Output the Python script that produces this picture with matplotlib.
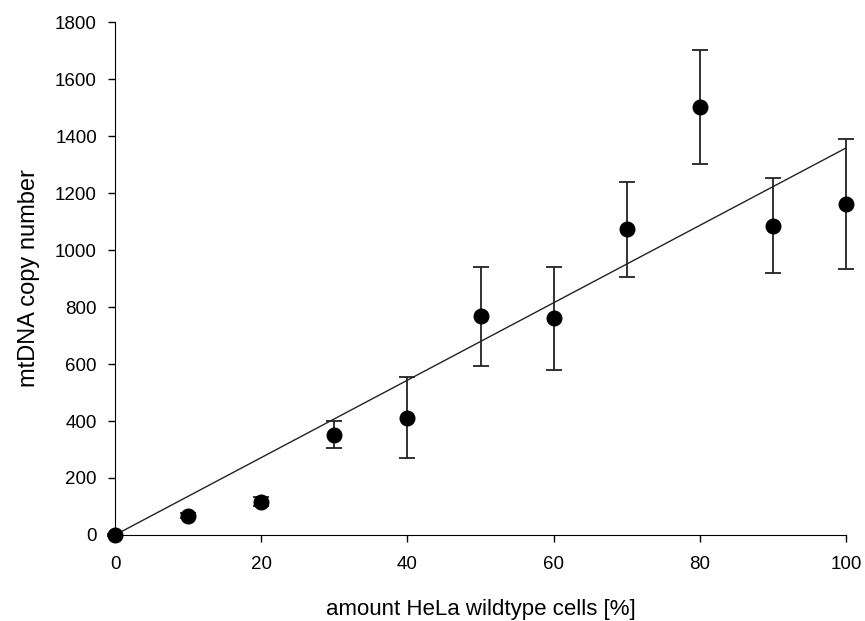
import numpy as np
import matplotlib.pyplot as plt

plt.rcParams['font.family'] = ['Liberation Sans', 'DejaVu Sans']

# percent HeLa wildtype cells
amount = [0, 10, 20, 30, 40, 50, 60, 70, 80, 90, 100]
# mtDNA copy number (mean) and error
copies = [0, 68, 117, 352, 412, 768, 760, 1073, 1502, 1086, 1163]
err_up = [5, 10, 16, 48, 142, 172, 180, 166, 200, 167, 226]
err_dn = [5, 10, 16, 47, 142, 175, 182, 168, 200, 167, 230]

# linear fit line
fit_x = [0, 100]
fit_y = [0, 1358]

fig = plt.figure(figsize=(8.65, 6.21), dpi=100)
ax = fig.add_axes([0.133, 0.1385, 0.845, 0.826])

ax.plot(fit_x, fit_y, color='#222222', lw=1.0, zorder=2)
ax.errorbar(amount, copies, yerr=[err_dn, err_up], fmt='o', color='black',
            ecolor='#222222', elinewidth=1.3, capsize=5.5, capthick=1.3,
            markersize=10.5, zorder=3, clip_on=False)

ax.set_xlim(0, 100)
ax.set_ylim(0, 1800)
ax.set_xticks(np.arange(0, 101, 20))
ax.set_yticks(np.arange(0, 1801, 200))

ax.spines['top'].set_visible(False)
ax.spines['right'].set_visible(False)
ax.tick_params(direction='out', length=5, width=1, labelsize=13.5, pad=8)
ax.tick_params(axis='x', pad=10)

ax.set_xlabel("amount HeLa wildtype cells [%]", fontsize=16, labelpad=19)
ax.set_ylabel("mtDNA copy number", fontsize=17, labelpad=11)

plt.savefig("out.png", dpi=100)
